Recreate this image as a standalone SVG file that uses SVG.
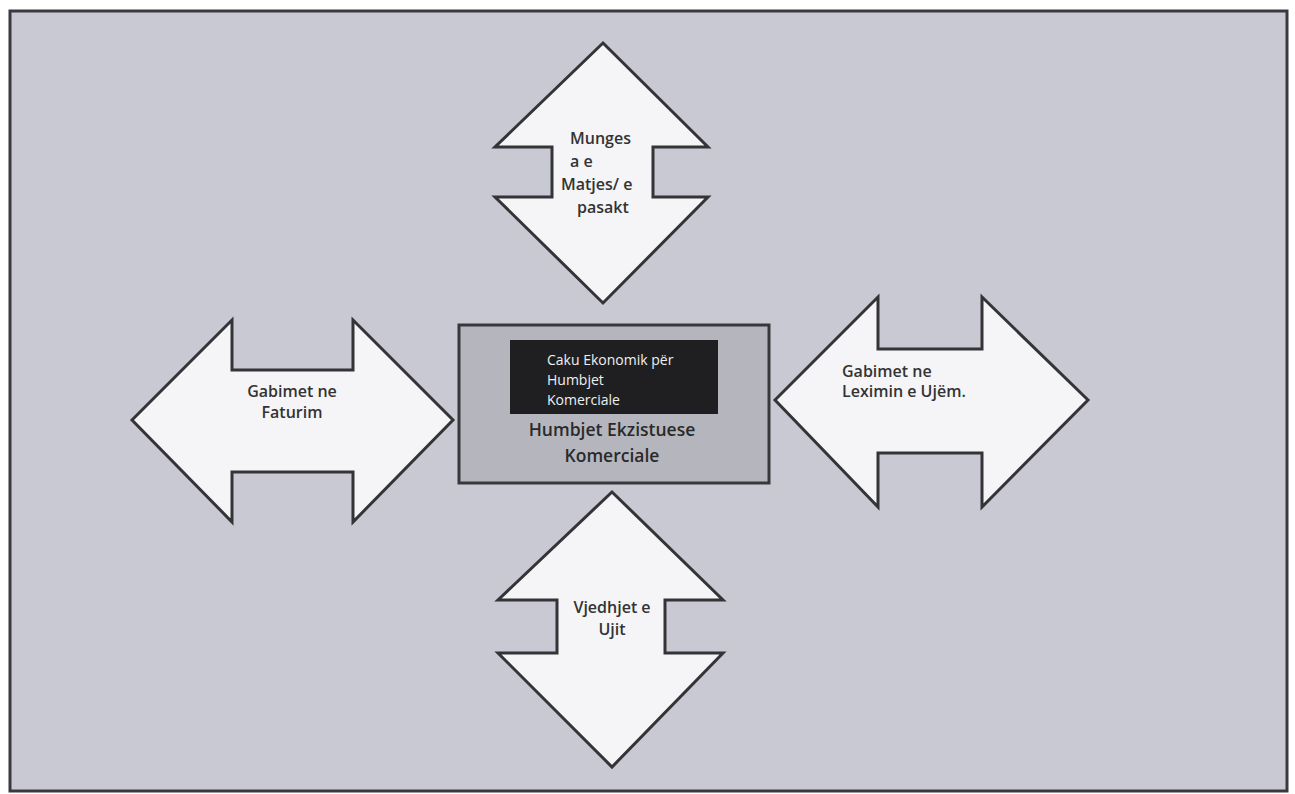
<svg xmlns="http://www.w3.org/2000/svg" width="1295" height="794" viewBox="0 0 1295 794">
<style>
.arrow{fill:#f5f5f7;stroke:#343438;stroke-width:3;stroke-linejoin:miter}
.lbl{font-family:"Open Sans","Liberation Sans",sans-serif;font-weight:600;font-size:16px;fill:#333}
.inner{font-family:"Open Sans","Liberation Sans",sans-serif;font-weight:400;font-size:14px;fill:#f0f0f0}
.main{font-family:"Open Sans","Liberation Sans",sans-serif;font-weight:600;font-size:17.5px;fill:#2a2a2a}
</style>
<rect x="0" y="0" width="1295" height="794" fill="#ffffff"/>
<rect id="frame" x="10" y="11" width="1277" height="780" fill="#c8c9d2" stroke="#3a3a3e" stroke-width="3"/>
<g id="connectors"></g>
<g id="top-arrow">
<polygon class="arrow" points="603,43 708,147 653,147 653,197 708,197 603,303 495,197 552,197 552,147 495,147"/>
<text class="lbl" x="570" y="144">Munges</text>
<text class="lbl" x="570" y="167">a e</text>
<text class="lbl" x="561" y="190">Matjes/ e</text>
<text class="lbl" x="577" y="213">pasakt</text>
</g>
<g id="left-arrow">
<polygon class="arrow" points="132,420 232,320 232,370 353,370 353,320 453,420 353,522 353,472 232,472 232,522"/>
<text class="lbl" x="292" y="397" text-anchor="middle">Gabimet ne</text>
<text class="lbl" x="292" y="418" text-anchor="middle">Faturim</text>
</g>
<g id="right-arrow">
<polygon class="arrow" points="775,400 878,297 878,349 982,349 982,297 1088,400 982,507 982,453 878,453 878,507"/>
<text class="lbl" x="842" y="377">Gabimet ne</text>
<text class="lbl" x="842" y="397">Leximin e Ujëm.</text>
</g>
<g id="bottom-arrow">
<polygon class="arrow" points="612,492 723,600 665,600 665,653 723,653 612,767 498,653 557,653 557,600 498,600"/>
<text class="lbl" x="612" y="613" text-anchor="middle">Vjedhjet e</text>
<text class="lbl" x="612" y="635" text-anchor="middle">Ujit</text>
</g>
<g id="center-box">
<rect x="459" y="325" width="310" height="158" fill="#b5b6bd" stroke="#38383c" stroke-width="3"/>
<rect x="510" y="340" width="208" height="74" fill="#1f1f22"/>
<text class="inner" x="547" y="365">Caku Ekonomik për</text>
<text class="inner" x="547" y="385">Humbjet</text>
<text class="inner" x="547" y="405">Komerciale</text>
<text class="main" x="612" y="436" text-anchor="middle">Humbjet Ekzistuese</text>
<text class="main" x="612" y="462" text-anchor="middle">Komerciale</text>
</g>
</svg>
